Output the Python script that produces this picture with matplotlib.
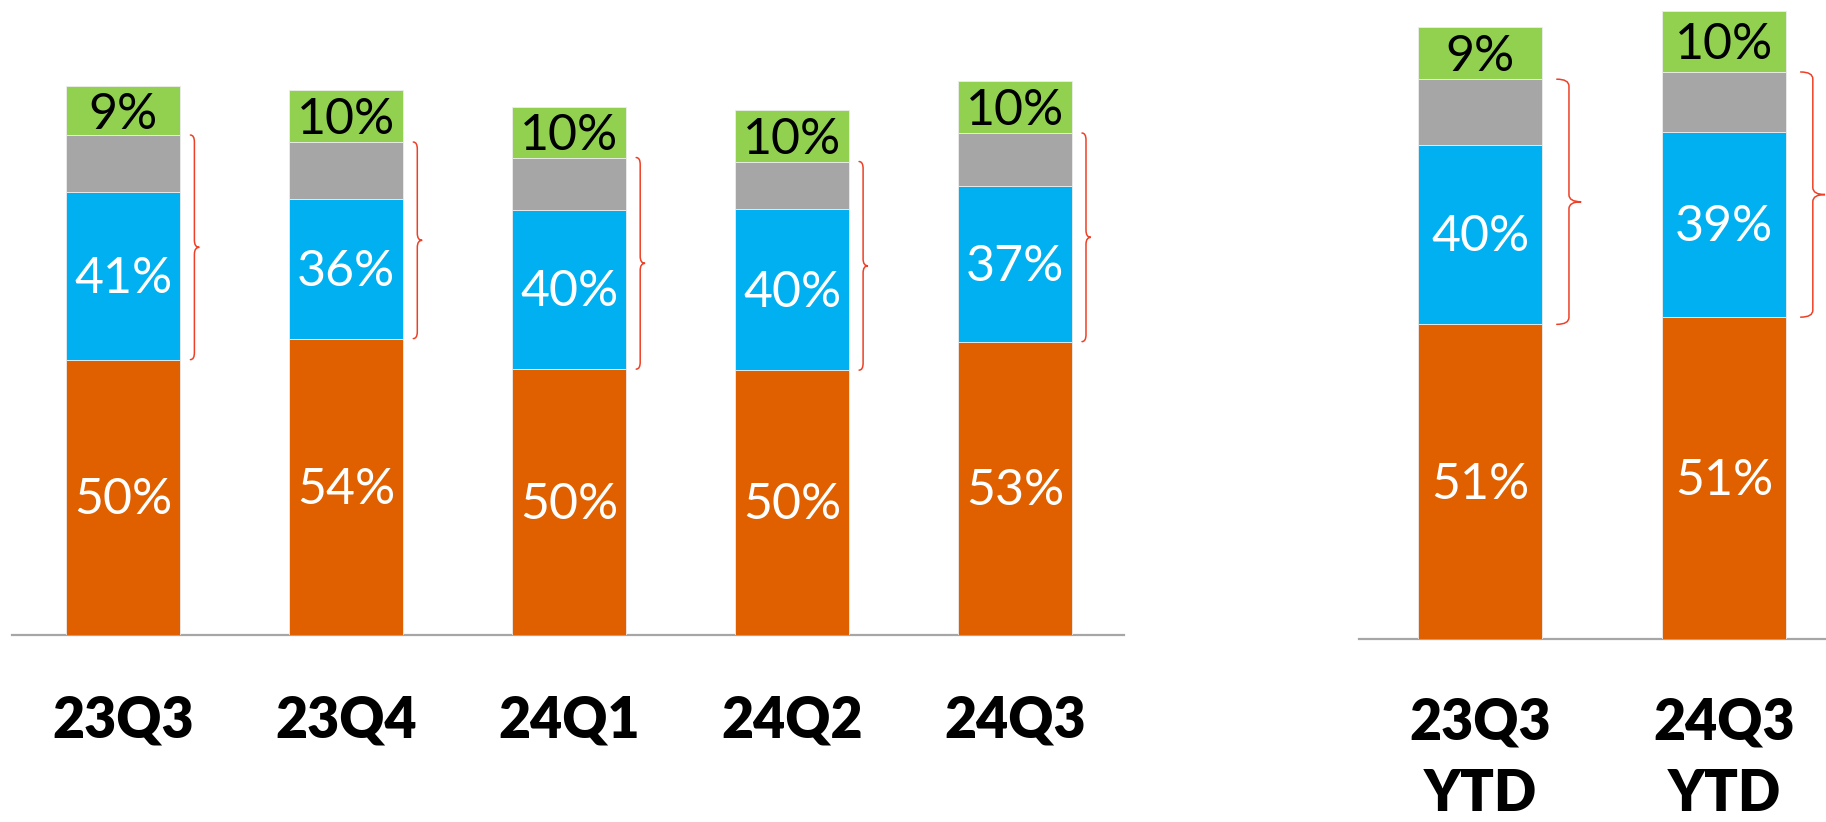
import matplotlib
matplotlib.use("Agg")
import matplotlib.pyplot as plt
from matplotlib.path import Path
from matplotlib.patches import PathPatch
from matplotlib.transforms import blended_transform_factory

# ---------------- data ----------------
q_categories = ["23Q3", "23Q4", "24Q1", "24Q2", "24Q3"]
q_orange = [55.0, 59.2, 53.1, 52.9, 58.6]
q_blue = [33.5, 28.0, 31.9, 32.2, 31.1]
q_gray = [11.4, 11.3, 10.4, 9.5, 10.6]
q_green = [9.8, 10.5, 10.2, 10.4, 10.5]
q_pct_orange = ["50%", "54%", "50%", "50%", "53%"]
q_pct_mid = ["41%", "36%", "40%", "40%", "37%"]
q_pct_green = ["9%", "10%", "10%", "10%", "10%"]

y_categories = ["23Q3\nYTD", "24Q3\nYTD"]
y_orange = [157.5, 161.1]
y_blue = [89.9, 92.8]
y_gray = [32.7, 29.8]
y_green = [26.2, 30.7]
y_pct_orange = ["51%", "51%"]
y_pct_mid = ["40%", "39%"]
y_pct_green = ["9%", "10%"]

# ---------------- style ----------------
C_ORANGE = "#E06000"
C_BLUE = "#00B0F0"
C_GRAY = "#A6A6A6"
C_GREEN = "#92D050"
C_BRACE = "#EE4026"
FONT = "Lato"

W, H = 1826, 822
fig = plt.figure(figsize=(W / 100, H / 100), dpi=100)


def px_box(x0, x1, y_base):
    """axes rectangle from pixel coords (y measured from top), top at figure top"""
    return [x0 / W, (H - y_base) / H, (x1 - x0) / W, y_base / H]


def brace(ax, xc, y0, y1, hook, line, tip, d):
    ym = (y0 + y1) / 2
    xh, xl, xt = xc + hook, xc + line, xc + tip
    verts = [(xh, y1), (xl, y1), (xl, y1 - d), (xl, ym + d),
             (xl, ym), (xt, ym), (xl, ym), (xl, ym - d),
             (xl, y0 + d), (xl, y0), (xh, y0)]
    codes = [Path.MOVETO, Path.CURVE3, Path.CURVE3, Path.LINETO,
             Path.CURVE3, Path.CURVE3, Path.CURVE3, Path.CURVE3,
             Path.LINETO, Path.CURVE3, Path.CURVE3]
    ax.add_patch(PathPatch(Path(verts, codes), fill=False, edgecolor=C_BRACE,
                           lw=1.1, clip_on=False, capstyle="round"))


def panel(box, xlim, ymax, width, cats, orange, blue, gray, green,
          p_orange, p_mid, p_green, brace_off, label_y, line_step):
    ax = fig.add_axes(box)
    x = list(range(len(cats)))
    b1 = orange
    b2 = [a + b for a, b in zip(b1, blue)]
    b3 = [a + b for a, b in zip(b2, gray)]
    kw = dict(width=width, edgecolor="#EDEDED", linewidth=0.6, zorder=3)
    ax.bar(x, orange, color=C_ORANGE, **kw)
    ax.bar(x, blue, bottom=b1, color=C_BLUE, **kw)
    ax.bar(x, gray, bottom=b2, color=C_GRAY, **kw)
    ax.bar(x, green, bottom=b3, color=C_GREEN, **kw)
    ax.set_xlim(*xlim)
    ax.set_ylim(0, ymax)
    for s in ["top", "right", "left"]:
        ax.spines[s].set_visible(False)
    ax.spines["bottom"].set_color("#A6A6A6")
    ax.spines["bottom"].set_linewidth(1.6)
    ax.spines["bottom"].set_zorder(2)
    ax.set_xticks([])
    ax.set_yticks([])
    ax.patch.set_alpha(0)

    unit_px = ymax / (box[3] * H)  # data units per pixel
    lab = dict(ha="center", va="baseline", family=FONT, fontsize=36,
               textcoords="offset pixels", zorder=5)
    for i in x:
        ax.annotate(p_orange[i], (i, orange[i] / 2), xytext=(0, -17),
                    color="white", **lab)
        ax.annotate(p_mid[i], (i, b1[i] + blue[i] / 2), xytext=(0, -17),
                    color="white", **lab)
        ax.annotate(p_green[i], (i, b3[i] + green[i] / 2), xytext=(0, -18),
                    color="black", **lab)
        hook, line, tip = brace_off
        brace(ax, i + width / 2, b1[i], b3[i], hook, line, tip, 7 * unit_px)

    tr = blended_transform_factory(ax.transData, fig.transFigure)
    for i, c in enumerate(cats):
        for k, part in enumerate(c.split("\n")):
            ax.text(i, (H - (label_y + k * line_step)) / H, part, transform=tr,
                    ha="center", va="baseline", family=FONT,
                    fontweight=800, fontsize=40, color="black")
    return ax


# left (quarterly) panel
panel(px_box(11.6, 1124, 634.7), (-0.5016, 4.489), 126.9, 0.511,
      q_categories, q_orange, q_blue, q_gray, q_green,
      q_pct_orange, q_pct_mid, q_pct_green,
      (0.045, 0.063, 0.085), 737, 76)

# right (YTD) panel
panel(px_box(1359, 1826, 639.3), (-0.497, 1.418), 319.7, 0.508,
      y_categories, y_orange, y_blue, y_gray, y_green,
      y_pct_orange, y_pct_mid, y_pct_green,
      (0.06, 0.11, 0.16), 739, 72)

fig.savefig("out.png", dpi=100)
